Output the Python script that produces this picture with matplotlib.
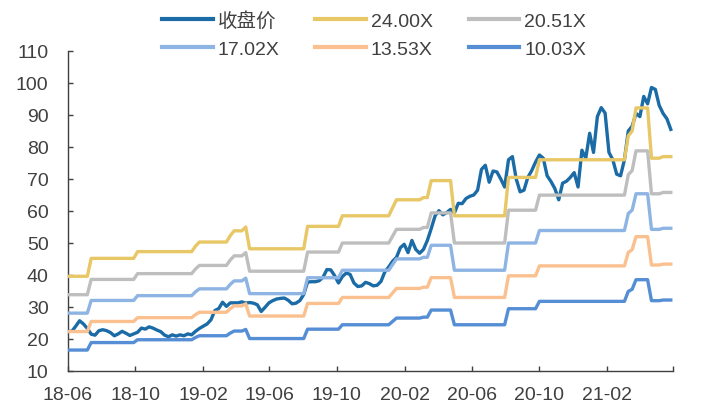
import matplotlib
matplotlib.use("Agg")
import matplotlib.pyplot as plt
import pandas as pd

plt.rcParams['font.family'] = ['Liberation Sans', 'Noto Sans CJK SC', 'DejaVu Sans']

# Weekly closing prices
weeks = pd.date_range("2018-06-01", periods=157, freq="7D")
close = [
    22.4, 22.4, 24.0, 25.7, 24.7, 23.3, 21.5, 21.2, 22.6, 22.9,
    22.6, 22.0, 21.0, 21.6, 22.4, 21.8, 21.1, 21.6, 22.1, 23.4,
    23.1, 23.8, 23.4, 22.8, 22.3, 21.2, 20.7, 21.3, 20.9, 21.3,
    21.0, 21.6, 21.3, 22.4, 23.3, 24.0, 24.7, 26.0, 28.9, 29.5,
    31.5, 30.2, 31.3, 31.3, 31.3, 31.6, 31.2, 31.4, 31.2, 30.7,
    28.6, 29.9, 31.3, 32.0, 32.5, 32.7, 32.8, 32.1, 31.0, 31.2,
    32.0, 33.9, 37.8, 37.9, 37.9, 38.2, 39.3, 41.7, 41.6, 39.8,
    37.5, 39.5, 40.6, 40.2, 37.5, 36.4, 36.6, 37.7, 37.3, 36.6,
    36.8, 38.0, 41.0, 42.5, 44.3, 45.5, 48.5, 49.6, 47.0, 50.8,
    48.0, 46.8, 48.0, 50.8, 54.5, 58.5, 60.1, 58.8, 59.5, 60.5,
    59.4, 62.4, 62.3, 63.9, 64.6, 65.0, 66.5, 73.0, 74.3, 69.0,
    72.5, 72.2, 70.0, 67.5, 76.0, 77.0, 70.0, 66.0, 66.5, 70.5,
    72.6, 75.3, 77.5, 76.5, 71.0, 69.2, 67.0, 63.5, 68.7, 69.3,
    70.5, 72.0, 67.5, 79.0, 76.5, 84.3, 78.3, 89.5, 92.3, 90.6,
    78.3, 76.0, 71.5, 71.0, 76.0, 85.0, 86.5, 90.5, 89.5, 95.8,
    93.5, 98.6, 98.0, 93.0, 90.5, 88.8, 85.5,
]

# Rolling EPS: value takes effect from the given week onwards
eps_dates = [
    "2018-06-01", "2018-07-13", "2018-10-05", "2019-01-18", "2019-01-25",
    "2019-03-22", "2019-03-29", "2019-04-19", "2019-04-26", "2019-08-09",
    "2019-10-11", "2020-01-10", "2020-01-17", "2020-03-06", "2020-03-20",
    "2020-05-01", "2020-08-07", "2020-10-02", "2021-03-12", "2021-03-19",
    "2021-03-26", "2021-04-23", "2021-05-14",
]
eps_values = [
    1.650, 1.883, 1.971, 2.042, 2.096,
    2.179, 2.242, 2.292, 2.008, 2.300,
    2.4375, 2.542, 2.646, 2.675, 2.896,
    2.4375, 2.9375, 3.167, 3.479, 3.542,
    3.842, 3.1875, 3.208,
]

multiples = [24.00, 20.51, 17.02, 13.53, 10.03]
band_labels = ["24.00X", "20.51X", "17.02X", "13.53X", "10.03X"]
band_colors = ["#E8C766", "#BEBEBE", "#8EB4E3", "#FBC08F", "#558ED5"]
close_color = "#1A6BA6"

tick_dates = ["2018-06-01", "2018-10-01", "2019-02-01", "2019-06-01", "2019-10-01",
              "2020-02-01", "2020-06-01", "2020-10-01", "2021-02-01", "2021-06-01"]
tick_labels = ["18-06", "18-10", "19-02", "19-06", "19-10",
               "20-02", "20-06", "20-10", "21-02", ""]

eps = (pd.Series(eps_values, index=pd.to_datetime(eps_dates))
       .reindex(weeks, method="ffill"))

fig = plt.figure(figsize=(7.1, 4.14), dpi=100)
ax = fig.add_axes([68 / 710, 1 - 372 / 414, 605 / 710, 320 / 414])

lw = 2.4
handles = {}
handles["收盘价"], = ax.plot(weeks, close, color=close_color, lw=lw,
                            solid_joinstyle="round", label="收盘价", zorder=2)
for m, lab, col in zip(multiples, band_labels, band_colors):
    handles[lab], = ax.plot(weeks, eps * m, color=col, lw=lw,
                            solid_joinstyle="round", label=lab, zorder=3)

ax.set_xlim(pd.Timestamp("2018-06-01"), pd.Timestamp("2021-06-01"))
ax.set_ylim(10, 110)
ax.set_yticks(range(10, 111, 10))
ax.set_xticks(pd.to_datetime(tick_dates))
ax.set_xticklabels(tick_labels)

for side in ("top", "right"):
    ax.spines[side].set_visible(False)
for side in ("left", "bottom"):
    ax.spines[side].set_color("#404040")
    ax.spines[side].set_linewidth(1.0)

ax.tick_params(axis="y", direction="in", length=3.6, width=1.0, color="#404040",
               labelsize=14, labelcolor="#404040", pad=14)
ax.tick_params(axis="x", direction="in", length=3.6, width=1.0, color="#404040",
               labelsize=14, labelcolor="#404040", pad=11)

order = ["收盘价", "17.02X", "24.00X", "13.53X", "20.51X", "10.03X"]
leg = fig.legend([handles[k] for k in order], order, ncol=3, loc="center",
                 bbox_to_anchor=(374 / 710, 1 - 35.5 / 414), frameon=False,
                 fontsize=14, handlelength=2.6, handletextpad=0.25,
                 columnspacing=1.85, labelspacing=0.5, labelcolor="#404040")
for line in leg.get_lines():
    line.set_linewidth(3.0)

fig.savefig("out.png", dpi=100)
